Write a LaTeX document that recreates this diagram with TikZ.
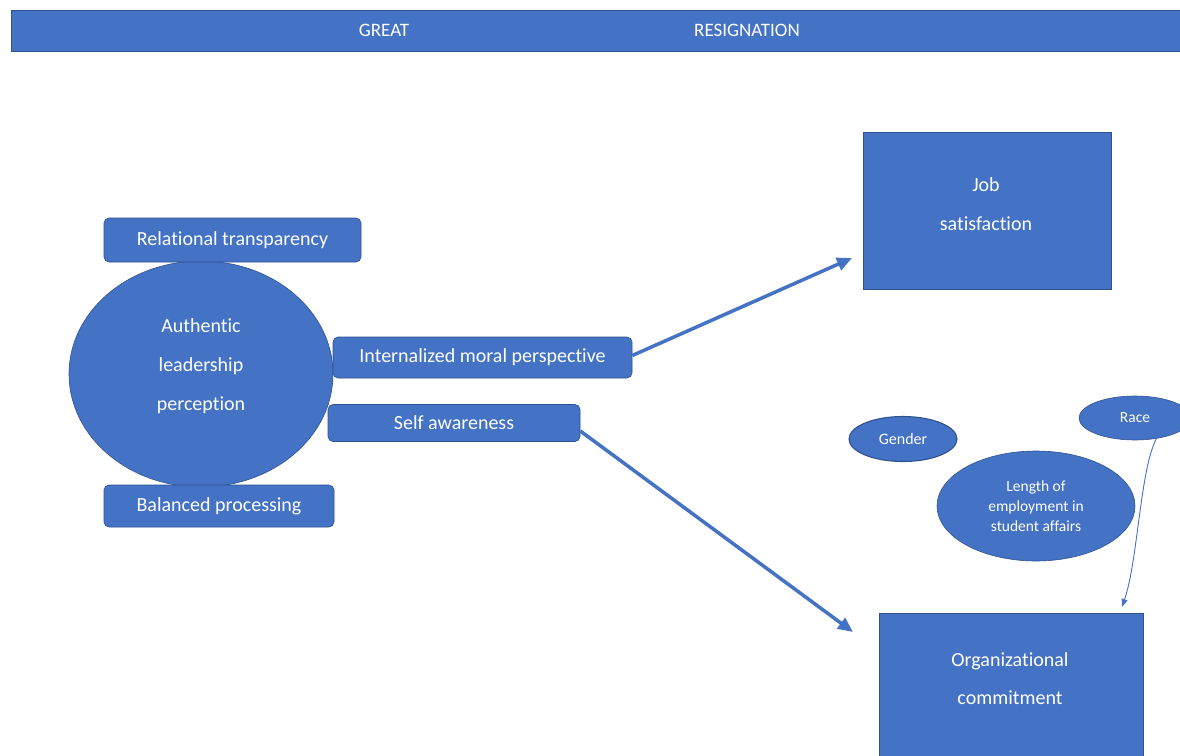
\documentclass[tikz,border=0pt]{standalone}
\usepackage{fontspec}
\setmainfont[Ligatures=NoCommon]{Carlito}
\usetikzlibrary{shapes.geometric,arrows.meta}
\definecolor{ofblue}{HTML}{4472C4}
\definecolor{ofedge}{HTML}{2F528F}
\begin{document}
\begin{tikzpicture}[x=1pt,y=-1pt,
  shp/.style={draw=ofedge, line width=0.6pt, fill=ofblue, text=white, inner sep=0pt, anchor=center, align=center},
  rbox/.style={shp, rounded corners=5pt, font=\fontsize{20}{22}\selectfont},
  sqbox/.style={shp, font=\fontsize{20}{39}\selectfont},
  oval/.style={shp, ellipse},
  bigarrow/.style={draw=ofblue, line width=3.5pt, -{Triangle[length=15pt,width=13pt]}},
  thinarrow/.style={draw=ofblue, line width=0.9pt, -{Triangle[length=8pt,width=6pt]}},
  hdrtext/.style={text=white, font=\fontsize{19}{22}\selectfont, inner sep=0pt}]
\useasboundingbox (0,0) rectangle (1180,755);
\fill[white] (0,0) rectangle (1180,755);
% header
\node[shp, minimum width=1180pt, minimum height=41pt] (header) at (601,30.5) {};
\node[hdrtext] (great) at (384,30) {GREAT};
\node[hdrtext] (resig) at (747,30) {RESIGNATION};
% left cluster
\node[oval, minimum width=264pt, minimum height=226pt] (ale) at (201,374) {};
\node[text=white, font=\fontsize{20}{39}\selectfont, align=center, inner sep=0pt] (aletext) at (201,366) {Authentic\\leadership\\perception};
\node[rbox, minimum width=257pt, minimum height=44pt] (rt) at (232.5,240) {Relational transparency};
\node[rbox, minimum width=230pt, minimum height=42pt] (bp) at (219,506) {Balanced processing};
\node[rbox, minimum width=299pt, minimum height=41pt] (imp) at (482.5,357.5) {Internalized moral perspective};
\node[rbox, minimum width=252pt, minimum height=37pt] (sa) at (454,423) {Self awareness};
% outcomes
\node[sqbox, minimum width=248pt, minimum height=157pt] (job) at (987,210.5) {};
\node[text=white, font=\fontsize{20}{39}\selectfont, align=center, inner sep=0pt] (jobtext) at (986,204.5) {Job\\satisfaction};
\node[sqbox, minimum width=264pt, minimum height=160pt] (org) at (1011,693) {};
\node[text=white, font=\fontsize{20}{38}\selectfont, align=center, inner sep=0pt] (orgtext) at (1010,679) {Organizational\\commitment};
% covariates
\node[oval, draw=ofedge, line width=1.1pt, minimum width=108pt, minimum height=45pt, font=\fontsize{16}{18}\selectfont] (gender) at (903,439) {Gender};
\node[oval, minimum width=112pt, minimum height=44pt, font=\fontsize{15.5}{18}\selectfont] (race) at (1135,418) {Race};
\node[oval, minimum width=198pt, minimum height=110pt, font=\fontsize{15.5}{20}\selectfont] (length) at (1036,506) {Length of\\employment in\\student affairs};
% connectors
\coordinate (jobtip) at (852,258);
\coordinate (orgtip) at (853,632);
\coordinate (raceend) at (1122,607);
\draw[bigarrow] ([yshift=2pt]imp.east) -- (jobtip);
\draw[bigarrow] ([yshift=-8pt]sa.east) -- (orgtip);
\draw[thinarrow] (race.-44) .. controls (1140,470) and (1138,560) .. (raceend);
\end{tikzpicture}
\end{document}
